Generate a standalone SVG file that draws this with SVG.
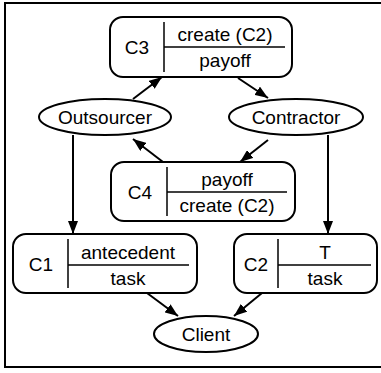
<svg xmlns="http://www.w3.org/2000/svg" width="381" height="373" viewBox="0 0 381 373">
<defs>
<marker id="ah" viewBox="0 0 13 10" refX="13" refY="5" markerWidth="13" markerHeight="10" markerUnits="userSpaceOnUse" orient="auto">
<path d="M0,0 L13,5 L0,10 Z" fill="#000"/>
</marker>
</defs>
<style>
.box{fill:#fff;stroke:#000;stroke-width:2}
.div{stroke:#000;stroke-width:1.5;fill:none}
.ell{fill:#fff;stroke:#000;stroke-width:2}
.e{stroke:#000;stroke-width:2;fill:none;marker-end:url(#ah)}
text{font-family:"Liberation Sans",Arial,sans-serif;font-size:19px;fill:#000;text-anchor:middle}
</style>
<rect x="5" y="3" width="400" height="364" fill="#fff" stroke="#000" stroke-width="2"/>
<g id="connectors">
<line class="e" x1="133" y1="99" x2="162" y2="77"/>
<line class="e" x1="238" y1="78" x2="268" y2="98"/>
<line class="e" x1="268" y1="140" x2="240" y2="162"/>
<line class="e" x1="163" y1="162" x2="133" y2="139"/>
<line class="e" x1="73" y1="135" x2="73" y2="234"/>
<line class="e" x1="328" y1="135" x2="328" y2="234"/>
<line class="e" x1="147" y1="293" x2="178" y2="316"/>
<line class="e" x1="262" y1="293" x2="234" y2="316"/>
</g>
<g id="C3">
<rect class="box" x="110" y="17" width="182" height="60" rx="13"/>
<line class="div" x1="164" y1="22" x2="164" y2="72"/>
<line class="div" x1="164" y1="47" x2="285" y2="47"/>
<text x="137" y="54">C3</text>
<text x="225" y="41">create (C2)</text>
<text x="225" y="67">payoff</text>
</g>
<g id="Outsourcer">
<ellipse class="ell" cx="105" cy="117" rx="66" ry="18"/>
<text x="105" y="124">Outsourcer</text>
</g>
<g id="Contractor">
<ellipse class="ell" cx="296" cy="117" rx="67" ry="18"/>
<text x="296" y="124">Contractor</text>
</g>
<g id="C4">
<rect class="box" x="111" y="162" width="184" height="59" rx="13"/>
<line class="div" x1="167" y1="167" x2="167" y2="216"/>
<line class="div" x1="167" y1="192" x2="287" y2="192"/>
<text x="140" y="199">C4</text>
<text x="227" y="186">payoff</text>
<text x="227" y="212">create (C2)</text>
</g>
<g id="C1">
<rect class="box" x="13" y="234" width="184" height="59" rx="13"/>
<line class="div" x1="68" y1="239" x2="68" y2="288"/>
<line class="div" x1="68" y1="265" x2="189" y2="265"/>
<text x="41" y="271">C1</text>
<text x="128" y="259">antecedent</text>
<text x="128" y="285">task</text>
</g>
<g id="C2">
<rect class="box" x="234" y="234" width="143" height="59" rx="13"/>
<line class="div" x1="278" y1="239" x2="278" y2="288" stroke="#555"/>
<line class="div" x1="278" y1="265" x2="371" y2="265"/>
<text x="256" y="271">C2</text>
<text x="325" y="259">T</text>
<text x="325" y="285">task</text>
</g>
<g id="Client">
<ellipse class="ell" cx="206" cy="334" rx="52" ry="18"/>
<text x="206" y="341">Client</text>
</g>
</svg>
